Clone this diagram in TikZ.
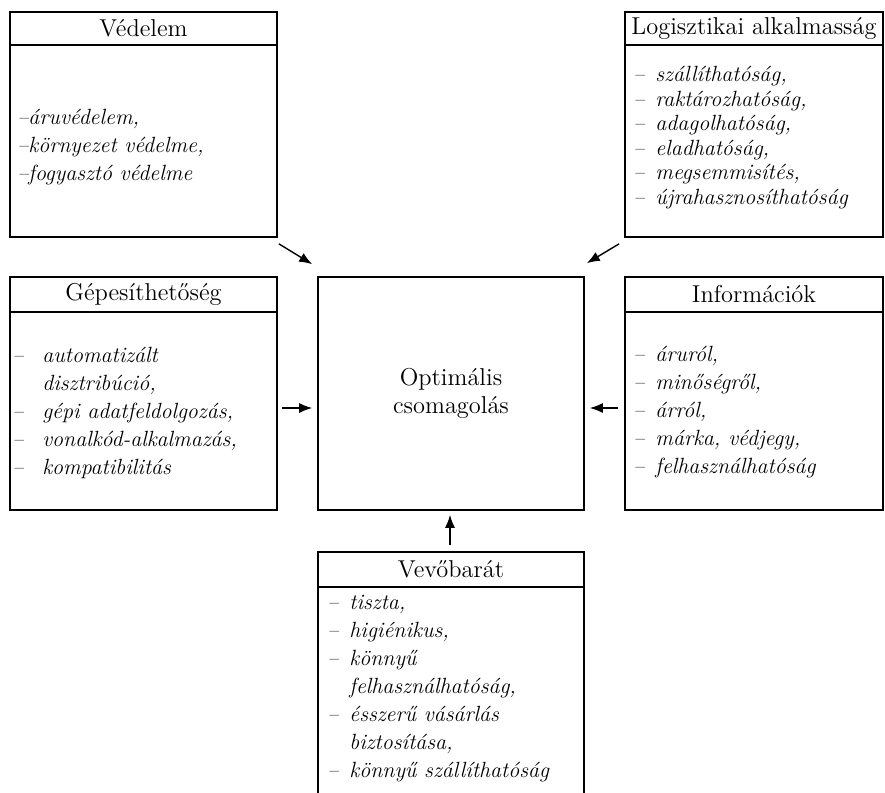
\documentclass[tikz,border=0pt]{standalone}
\usepackage{tikz}
\usetikzlibrary{arrows.meta,calc}

% list dash and continuation indent
\newcommand{\li}[1][1em]{\makebox[#1][l]{--}}
\newcommand{\lc}[1][1em]{\hspace*{#1}}

\begin{document}
\begin{tikzpicture}[
  x=0.5pt, y=-0.5pt, >={Latex[length=6.5pt,width=5pt]},
  font=\fontsize{12.2}{14}\selectfont,
  box/.style={draw,line width=0.8pt,inner sep=0,minimum width=133pt,align=center},
  head/.style={draw,line width=0.8pt,inner sep=0,anchor=north,minimum height=17.5pt},
  list/.style={anchor=west,align=left,inner sep=0,font=\fontsize{11}{14}\selectfont\itshape},
  conn/.style={->,line width=0.7pt}
]
\clip (0,0) rectangle (885,793);

% Centre
\node[box,minimum height=116.5pt] (optimalis) at (451,393.5) {Optimális\\csomagolás};

% Top row
\node[box,minimum width=133.5pt,minimum height=112.5pt] (vedelem) at (143.5,124.5) {};
\node[head,minimum width=133.5pt,minimum height=16.5pt] (vedelemH) at (vedelem.north) {Védelem};
\node[list] (vedelemL) at (17,147)
  {--áruvédelem,\\--környezet védelme,\\--fogyasztó védelme};

\node[box,minimum width=129pt,minimum height=112.5pt] (logisztika) at (754,124.5) {};
\node[head,minimum width=129pt,minimum height=16.5pt] (logisztikaH) at (logisztika.north) {Logisztikai alkalmasság};
\node[list,font=\fontsize{11}{12.25}\selectfont\itshape] (logisztikaL) at (633,137.5)
  {\li szállíthatóság,\\\li raktározhatóság,\\\li adagolhatóság,\\\li eladhatóság,\\\li megsemmisítés,\\\li újrahasznosíthatóság};

% Middle row
\node[box,minimum width=133.5pt,minimum height=116.5pt] (gepesites) at (143.5,393.5) {};
\node[head,minimum width=133.5pt] (gepesitesH) at (gepesites.north) {Gépesíthetőség};
\node[list] (gepesitesL) at (12,412.5)
  {\li[1.36em]automatizált\\\lc[1.36em]disztribúció,\\\li[1.36em]gépi adatfeldolgozás,\\\li[1.36em]vonalkód-alkalmazás,\\\li[1.36em]kompatibilitás};

\node[box,minimum width=129pt,minimum height=116.5pt] (informacio) at (754,393.5) {};
\node[head,minimum width=129pt] (informacioH) at (informacio.north) {Információk};
\node[list] (informacioL) at (633,412.5)
  {\li áruról,\\\li minőségről,\\\li árról,\\\li márka, védjegy,\\\li felhasználhatóság};

% Bottom
\node[box,minimum height=124pt] (vevobarat) at (451,676) {};
\node[head,minimum width=133pt] (vevobaratH) at (vevobarat.north) {Vevőbarát};
\node[list] (vevobaratL) at (327,688.5)
  {\li tiszta,\\\li higiénikus,\\\li könnyű\\\lc felhasználhatóság,\\\li ésszerű vásárlás\\\lc biztosítása,\\\li könnyű szállíthatóság};

% Connections
\draw[conn] ($(vedelem.south east)+(1,6)$) -- ($(optimalis.north west)+(-5,-12)$);
\draw[conn] ($(logisztika.south west)+(-5,6)$) -- ($(optimalis.north east)+(2,-13)$);
\draw[conn] ($(gepesites.east)+(4,14.5)$) -- ($(optimalis.west)+(-5,14.5)$);
\draw[conn] ($(informacio.west)+(-6,14.5)$) -- ($(optimalis.east)+(5,14.5)$);
\draw[conn] ($(vevobarat.north)+(-1,-6)$) -- ($(optimalis.south)+(-1,4)$);
\end{tikzpicture}
\end{document}
